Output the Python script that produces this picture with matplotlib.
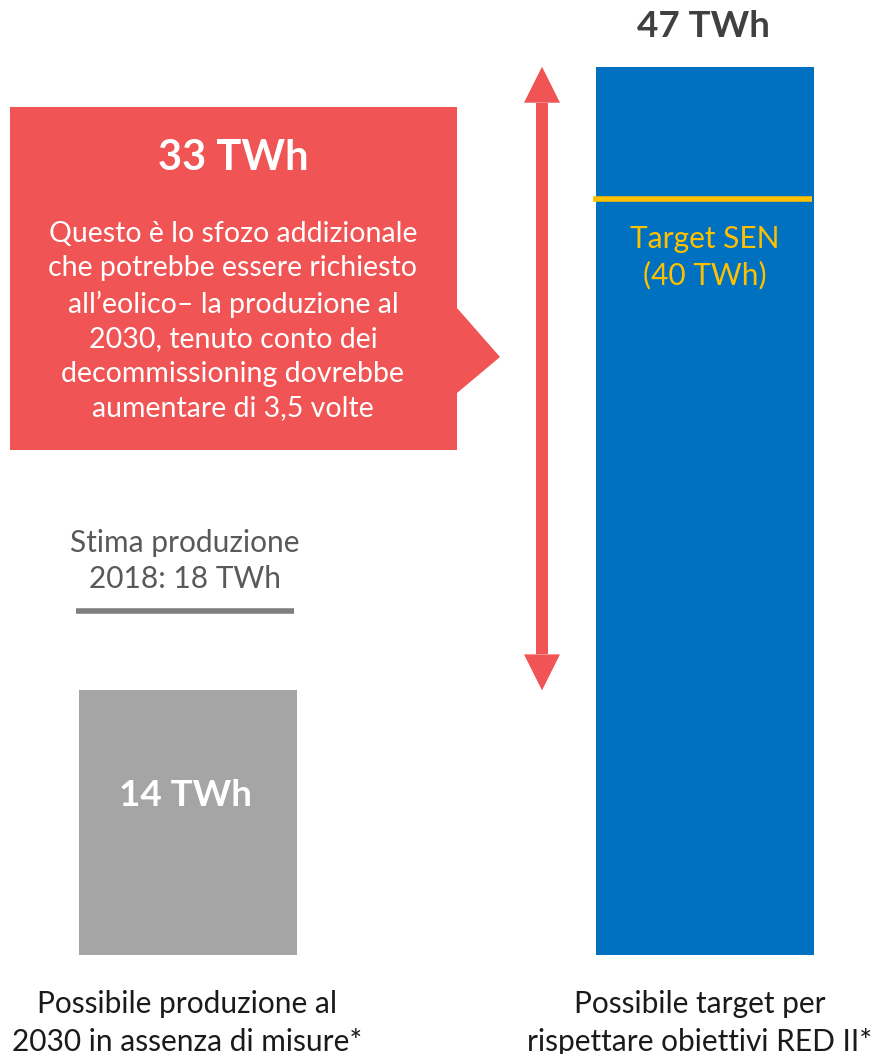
import matplotlib
matplotlib.use("Agg")
import matplotlib.pyplot as plt
from matplotlib.patches import Polygon

plt.rcParams['font.family'] = ['Lato', 'DejaVu Sans']

# data (TWh)
categories = ["Possibile produzione al\n2030 in assenza di misure*",
              "Possibile target per\nrispettare obiettivi RED II*"]
values = [14, 47]
bar_labels = ["14 TWh", "47 TWh"]
stima_2018 = 18.2
target_sen = 40
gap_label = "33 TWh"
gap_text = ("Questo è lo sfozo addizionale\nche potrebbe essere richiesto\n"
            "all’eolico– la produzione al\n2030, tenuto conto dei\n"
            "decommissioning dovrebbe\naumentare di 3,5 volte")

W, H = 879, 1054
base_px = 955        # pixel row of the zero line
px_per_twh = 18.9

def py(p):
    # pixel row -> TWh, for the decorations
    return (base_px - p) / px_per_twh

fig = plt.figure(figsize=(W / 100, H / 100), dpi=100)
ax = fig.add_axes([0, 0, 1, 1])
ax.set_xlim(0, W)
ax.set_ylim(py(H), py(0))
ax.axis('off')

xpos = [188, 705]
ax.bar(xpos, values, width=218, color=["#A5A5A5", "#0070C0"], zorder=2)

# labels on bars
ax.text(185, py(795), bar_labels[0], ha='center', va='center',
        fontsize=26.5, fontweight='bold', color='white', zorder=3)
ax.text(703, values[1] + 40 / px_per_twh, bar_labels[1], ha='center', va='center',
        fontsize=26.5, fontweight='bold', color='#404040')

# target SEN
ax.plot([593, 812], [target_sen, target_sen], color='#FFC000', lw=4, solid_capstyle='butt', zorder=3)
ax.text(xpos[1], py(257), "Target SEN\n(%d TWh)" % target_sen, ha='center', va='center',
        fontsize=21.5, color='#FFC000', linespacing=1.31, zorder=3)

# stima 2018
ax.plot([76, 294], [stima_2018, stima_2018], color='#7F7F7F', lw=4, solid_capstyle='butt')
ax.text(185, py(561), "Stima produzione\n2018: 18 TWh", ha='center', va='center',
        fontsize=21.5, color='#595959', linespacing=1.37)

# double arrow between the two values
red = '#F05454'
ax_x = 542
hl = 36 / px_per_twh
ax.plot([ax_x, ax_x], [values[0] + hl, values[1] - hl], color=red, lw=8.6, solid_capstyle='butt')
ax.fill([ax_x - 18, ax_x + 18, ax_x], [values[1] - hl, values[1] - hl, values[1]], color=red, lw=0)
ax.fill([ax_x - 18, ax_x + 18, ax_x], [values[0] + hl, values[0] + hl, values[0]], color=red, lw=0)

# callout box
box = Polygon([(10, py(107)), (457, py(107)), (457, py(308)), (500, py(357)),
               (457, py(393)), (457, py(450)), (10, py(450))],
              closed=True, facecolor=red, edgecolor='none')
ax.add_patch(box)
ax.text(233, py(158), gap_label, ha='center', va='center',
        fontsize=30, fontweight='bold', color='white')
ax.text(233, py(321), gap_text, ha='center', va='center',
        fontsize=20.5, color='white', linespacing=1.41)

# category labels
ax.text(187, py(1023), categories[0], ha='center', va='center',
        fontsize=21.5, color='#1A1A1A', linespacing=1.4)
ax.text(700, py(1023), categories[1], ha='center', va='center',
        fontsize=21.5, color='#1A1A1A', linespacing=1.4)

fig.savefig("out.png", dpi=100)
